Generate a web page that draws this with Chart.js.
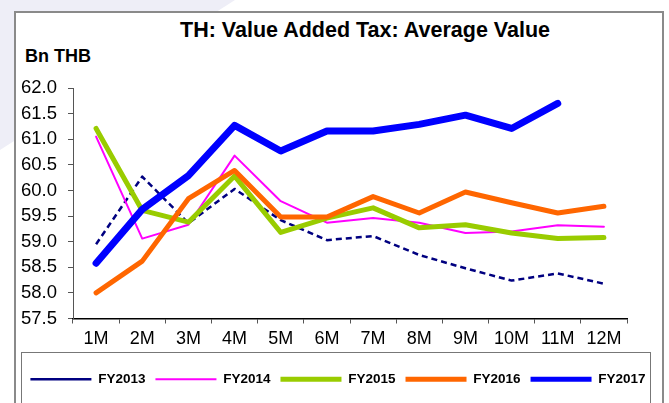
<!DOCTYPE html>
<html>
<head>
<meta charset="utf-8">
<script src="https://cdn.jsdelivr.net/npm/chart.js@4/dist/chart.umd.min.js"></script>
<style>
  html, body { margin: 0; padding: 0; background: #fff; }
  #page { position: relative; width: 669px; height: 403px; overflow: hidden; background: #fff; }
  #shade { position: absolute; left: 0; top: 0; width: 669px; height: 403px; background: #eeeef7;
           clip-path: polygon(0 0, 235px 0, 0 150px); }
  #frame { position: absolute; left: 14px; top: 11px; width: 646px; height: 400px;
           border: 2px solid #8a8a8a; background: #fff; }
  #legendBox { position: absolute; left: 21px; top: 352px; width: 628px; height: 60px;
               border: 1px solid #777; }
  #title { position: absolute; left: 115px; width: 500px; top: 18px; text-align: center;
           font: bold 21.5px "Liberation Sans", Arial, sans-serif; color: #000; }
  #unit { position: absolute; left: 25px; top: 46px;
          font: bold 18px "Liberation Sans", Arial, sans-serif; color: #000; }
  #wrap { position: absolute; left: 14px; top: 11px; width: 648px; height: 392px; }
</style>
</head>
<body>
<div id="page">
  <div id="shade"></div>
  <div id="frame"></div>
  <div id="legendBox"></div>
  <div id="title">TH: Value Added Tax: Average Value</div>
  <div id="unit">Bn THB</div>
  <div id="wrap"><canvas id="vatChart" width="648" height="392"></canvas></div>
</div>
<script>
// months of the fiscal year
const months = ["1M", "2M", "3M", "4M", "5M", "6M", "7M", "8M", "9M", "10M", "11M", "12M"];

// average VAT value, Bn THB
const fy2013 = [58.95, 60.27, 59.36, 60.03, 59.42, 59.03, 59.11, 58.74, 58.48, 58.24, 58.38, 58.18];
const fy2014 = [61.05, 59.06, 59.33, 60.68, 59.79, 59.37, 59.46, 59.37, 59.17, 59.20, 59.32, 59.29];
const fy2015 = [61.21, 59.61, 59.38, 60.28, 59.18, 59.46, 59.66, 59.27, 59.33, 59.17, 59.06, 59.08];
const fy2016 = [58.00, 58.62, 59.84, 60.39, 59.48, 59.48, 59.88, 59.56, 59.97, 59.76, 59.56, 59.69];
const fy2017 = [58.58, 59.63, 60.29, 61.27, 60.77, 61.16, 61.16, 61.29, 61.47, 61.21, 61.70, null];

const yTicks = [57.5, 58.0, 58.5, 59.0, 59.5, 60.0, 60.5, 61.0, 61.5, 62.0];

const fontFamily = '"Liberation Sans", Arial, sans-serif';

function series(label, data, color, width, order, dash) {
  return {
    label: label,
    data: data,
    borderColor: color,
    backgroundColor: color,
    borderWidth: width,
    borderDash: dash || [],
    borderCapStyle: dash ? "butt" : "round",
    borderJoinStyle: "round",
    pointRadius: 0,
    pointHoverRadius: 0,
    tension: 0,
    fill: false,
    order: order,
  };
}

const ctx = document.getElementById("vatChart").getContext("2d");
const chart = new Chart(ctx, {
  type: "line",
  data: {
    labels: months,
    datasets: [
      series("FY2013", fy2013, "#000080", 2.5, 4, [6, 4]),
      series("FY2014", fy2014, "#ff00ff", 2, 3),
      series("FY2015", fy2015, "#99cc00", 5, 2),
      series("FY2016", fy2016, "#ff6600", 5, 1),
      series("FY2017", fy2017, "#0000ff", 7, 0),
    ],
  },
  options: {
    responsive: false,
    animation: false,
    layout: { padding: { left: 0, right: 0, top: 77, bottom: 7 } },
    plugins: {
      title: { display: false },
      tooltip: { enabled: false },
      legend: {
        position: "bottom",
        labels: {
          usePointStyle: true,
          pointStyle: "line",
          pointStyleWidth: 61,
          padding: 10,
          color: "#000",
          font: { family: fontFamily, size: 13.5, weight: "bold" },
          sort: (a, b) => a.datasetIndex - b.datasetIndex,
          generateLabels: (c) => {
            const items = Chart.defaults.plugins.legend.labels.generateLabels(c);
            items.forEach((it) => { it.lineWidth = Math.min(it.lineWidth, 5); });
            return items;
          },
        },
      },
    },
    scales: {
      x: {
        offset: true,
        grid: {
          offset: true,
          drawOnChartArea: false,
          tickLength: 5,
          color: "#555",
        },
        border: { color: "#000", width: 1.5 },
        ticks: {
          padding: 5,
          maxRotation: 0,
          autoSkip: false,
          color: "#000",
          font: { family: fontFamily, size: 18 },
        },
        afterFit: (scale) => { scale.height = 44; },
      },
      y: {
        min: 57.5,
        max: 62.0,
        afterBuildTicks: (scale) => { scale.ticks = yTicks.map((v) => ({ value: v })); },
        grid: {
          drawOnChartArea: false,
          tickLength: 5,
          color: "#555",
        },
        border: { color: "#555", width: 1 },
        ticks: {
          padding: 11,
          autoSkip: false,
          color: "#000",
          font: { family: fontFamily, size: 18.5 },
          callback: (v) => Number(v).toFixed(1),
        },
        afterFit: (scale) => { scale.width = 59; },
      },
      // empty right-hand margin so the legend can use the full width
      yRight: {
        position: "right",
        min: 57.5,
        max: 62.0,
        grid: { display: false },
        border: { display: false },
        ticks: { display: false },
        afterFit: (scale) => { scale.width = 35; },
      },
    },
  },
});
</script>
</body>
</html>
